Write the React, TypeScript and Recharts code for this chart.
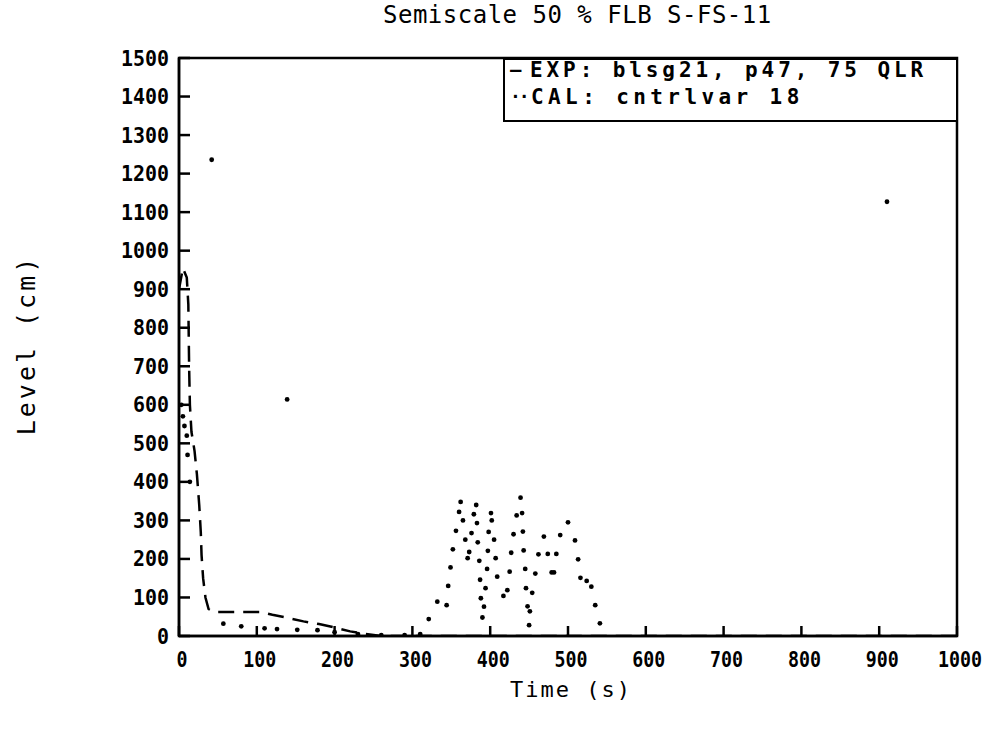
import React from 'react';
import { ComposedChart, Line, Scatter, XAxis, YAxis, ReferenceArea, Legend } from 'recharts';

const timeTicks = [0, 100, 200, 300, 400, 500, 600, 700, 800, 900, 1000];
const levelTicks = [0, 100, 200, 300, 400, 500, 600, 700, 800, 900, 1000, 1100, 1200, 1300, 1400, 1500];

// EXP: blsg21, p47, 75 QLR (dashed)
const expTime = [0, 5, 10, 12, 13, 14, 16, 20, 23, 26, 28, 29, 31, 34, 38, 45, 105, 120, 140, 160, 180, 200, 220, 240, 260, 1000];
const expLevel = [900, 955, 930, 860, 700, 600, 530, 480, 420, 340, 270, 210, 150, 100, 70, 62, 62, 55, 47, 38, 31, 22, 12, 5, 0, 0];

// CAL: cntrlvar 18 (dots)
const calTime = [
  3, 5, 7, 10, 11, 14, 42, 139, 910,
  57, 80, 110, 126, 152, 178, 200, 230, 260, 290, 310,
  321, 332, 344, 346, 349, 352, 356, 360, 362, 365, 368, 371, 373, 376, 379, 382, 383, 384, 386, 387, 388, 390,
  392, 394, 396, 397, 398, 401, 402, 405, 407, 409, 417, 422, 425, 427, 430, 434, 439, 441, 442, 443, 445, 446,
  448, 450, 451, 454, 458, 462, 469, 474, 479, 482, 485, 490, 500, 509, 513, 516, 524, 530, 535, 541,
];
const calLevel = [
  600, 570, 545, 520, 470, 400, 1236, 614, 1127,
  32, 25, 20, 18, 16, 15, 10, 5, 2, 2, 5,
  44, 89, 80, 130, 178, 225, 273, 322, 348, 300, 250, 202, 218, 267, 316, 340, 293, 243, 195, 146, 98, 48,
  76, 124, 174, 221, 270, 319, 300, 250, 202, 154, 104, 119, 167, 216, 264, 313, 359, 319, 271, 222, 174, 124,
  77, 28, 64, 112, 162, 212, 258, 213, 165, 165, 213, 262, 295, 248, 199, 151, 143, 128, 80, 33,
];

const expData = expTime.map((t, i) => ({ t, level: expLevel[i] }));
const calData = calTime.map((t, i) => ({ t, level: calLevel[i] }));

const FONT = '"DejaVu Sans Mono", monospace';

const YTick = (props: any) => {
  const { x, y, payload } = props;
  const s = String(payload.value);
  return (
    <g>
      <line x1={x} y1={y} x2={x + 11} y2={y} stroke="#000" strokeWidth={2.5} />
      <text x={x - 10} y={y} dy="0.36em" textAnchor="end" fontFamily={FONT} fontSize={21} fontWeight="bold"
        textLength={s.length * 12} lengthAdjust="spacingAndGlyphs" fill="#000">{s}</text>
    </g>
  );
};

const XTick = (props: any) => {
  const { x, y, payload } = props;
  const s = String(payload.value);
  return (
    <g>
      <line x1={x} y1={y} x2={x} y2={y - 10} stroke="#000" strokeWidth={2.5} />
      <text x={x + 3} y={y + 31} textAnchor="middle" fontFamily={FONT} fontSize={21} fontWeight="bold"
        textLength={s.length * 11} lengthAdjust="spacingAndGlyphs" fill="#000">{s}</text>
    </g>
  );
};

const LegendBox = () => (
  <div style={{
    boxSizing: 'border-box', width: 455, height: 64, border: '2.5px solid #000',
    fontFamily: FONT, fontSize: 21, fontWeight: 'bold', color: '#000', paddingLeft: 5, background: '#fff',
  }}>
    <div style={{ lineHeight: '27px', whiteSpace: 'nowrap', position: 'relative', top: -3 }}>
      <span style={{ display: 'inline-block', width: 20, fontSize: 19, position: 'relative', top: -1 }}>—</span>
      <span style={{ letterSpacing: 3.9 }}>EXP: blsg21, p47, 75 QLR</span>
    </div>
    <div style={{ lineHeight: '27px', whiteSpace: 'nowrap', position: 'relative', top: -3 }}>
      <span style={{ display: 'inline-block', width: 21, fontSize: 18, letterSpacing: -2, position: 'relative', top: -1 }}>··</span>
      <span style={{ letterSpacing: 4.4 }}>CAL: cntrlvar 18</span>
    </div>
  </div>
);

const dotShape = (p: any) => <circle cx={p.cx} cy={p.cy} r={2.4} fill="#000" />;

export default function App() {
  return (
    <div style={{ position: 'absolute', left: 0, top: 0, width: 991, height: 730, background: '#fff' }}>
      <ComposedChart width={991} height={730} margin={{ top: 58, right: 34, bottom: 64, left: 119 }}>
        <XAxis dataKey="t" type="number" domain={[0, 1000]} ticks={timeTicks} interval={0}
          tickSize={0} tickMargin={0} tickLine={false} tick={<XTick />} height={30}
          axisLine={{ stroke: '#000', strokeWidth: 2.5 }} allowDataOverflow />
        <YAxis dataKey="level" type="number" domain={[0, 1500]} ticks={levelTicks} interval={0}
          tickSize={0} tickMargin={0} tickLine={false} tick={<YTick />} width={60}
          axisLine={{ stroke: '#000', strokeWidth: 2.5 }} allowDataOverflow />
        <ReferenceArea x1={0} x2={1000} y1={0} y2={1500} fill="none" stroke="#000" strokeWidth={2.5} />
        <Line data={expData} dataKey="level" type="linear" stroke="#000" strokeWidth={2.5}
          strokeDasharray="16 9" dot={false} isAnimationActive={false} />
        <Scatter data={calData} dataKey="level" fill="#000" shape={dotShape} isAnimationActive={false} />
        <Legend layout="vertical" verticalAlign="middle" align="center"
          wrapperStyle={{ left: 503, top: 58, width: 455, height: 64 }} content={() => <LegendBox />} />
      </ComposedChart>
      <div style={{ position: 'absolute', left: 383, top: 2, fontFamily: FONT, fontSize: 24,
        letterSpacing: 0.5, whiteSpace: 'nowrap', lineHeight: '26px', color: '#000' }}>
        Semiscale 50 % FLB S-FS-11
      </div>
      <div style={{ position: 'absolute', left: 510, top: 676, fontFamily: FONT, fontSize: 22,
        letterSpacing: 2, whiteSpace: 'nowrap', lineHeight: '28px', color: '#000' }}>
        Time (s)
      </div>
      <div style={{ position: 'absolute', left: -68, top: 331, width: 190, height: 28, fontFamily: FONT,
        fontSize: 25, letterSpacing: 3, whiteSpace: 'nowrap', lineHeight: '28px', textAlign: 'center',
        transform: 'rotate(-90deg)', color: '#000' }}>
        Level (cm)
      </div>
    </div>
  );
}
